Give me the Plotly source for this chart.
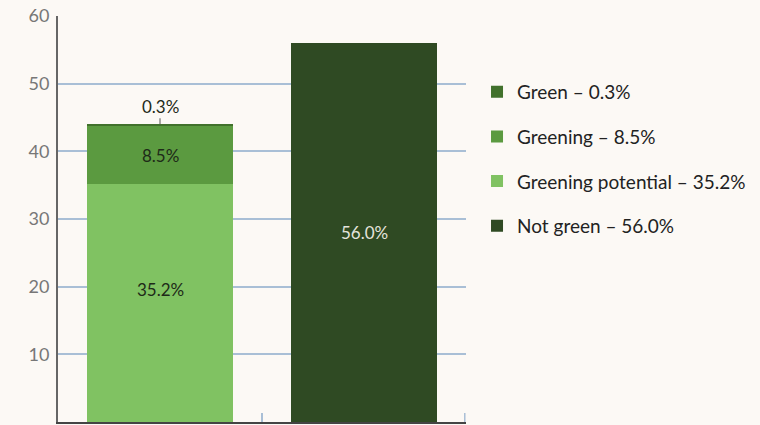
import plotly.graph_objects as go

categories = ["Green share", "Not green share"]
series_names = ["Greening potential", "Greening", "Green", "Not green"]
greening_potential = [35.2, 0]
greening = [8.5, 0]
green = [0.3, 0]
not_green = [0, 56.0]
legend_rank = [3, 2, 1, 4]
colors = ["#80c262", "#5b9a40", "#41712c", "#2f4a23"]

series_values = [greening_potential, greening, green, not_green]

fig = go.Figure()
for name, vals, col, rank in zip(series_names, series_values, colors, legend_rank):
    total = max(vals)
    fig.add_trace(go.Bar(
        x=categories, y=vals, name=f"{name} – {total:.1f}%",
        marker=dict(color=col, line=dict(width=0)),
        legendgroup=name, legendrank=rank,
        hoverinfo="skip",
    ))

# value labels
font_lbl = dict(family="Lato", size=17)
cum = 0.0
for name, vals in zip(series_names[:2], series_values[:2]):
    v = vals[0]
    fig.add_annotation(x=categories[0], y=cum + v / 2, text=f"{v:.1f}%", showarrow=False,
                       font=dict(color="#1e2a18", **font_lbl),
                       yshift=13 if cum == 0 else 0)
    cum += v
fig.add_annotation(x=categories[0], y=cum + green[0], text=f"{green[0]:.1f}%", showarrow=True,
                   arrowhead=0, arrowwidth=1, arrowcolor="#555", ax=0, ay=-18, standoff=0,
                   font=dict(color="#1e2a18", **font_lbl))
fig.add_annotation(x=categories[1], y=not_green[1] / 2, text=f"{not_green[1]:.1f}%", showarrow=False,
                   font=dict(color="#e4e4dc", **font_lbl))

# right-end boundary tick on the x axis
fig.add_shape(type="line", xref="paper", yref="paper", x0=0.997, x1=0.997, y0=0, y1=0.022,
              line=dict(color="#a9bfd6", width=1.5))

bg = "#fcf9f5"
fig.update_layout(
    barmode="stack", bargap=0.28,
    width=760, height=425,
    margin=dict(l=58, r=294, t=16, b=3),
    paper_bgcolor=bg, plot_bgcolor=bg,
    font=dict(family="Lato", color="#222"),
    showlegend=True,
    legend=dict(x=1.027, xanchor="left", y=0.86, yanchor="top",
                font=dict(size=19, color="#222"), tracegroupgap=17,
                bgcolor="rgba(0,0,0,0)", itemwidth=30),
)
fig.update_yaxes(range=[0, 60], dtick=10, showgrid=True, gridcolor="#a9bfd6", gridwidth=1.5,
                 showline=True, linecolor="#666", linewidth=2, zeroline=False,
                 tickfont=dict(size=18, color="#777"), ticklabelstandoff=3)
fig.update_xaxes(showticklabels=False, showline=True, linecolor="#444", linewidth=2,
                 ticks="inside", tickson="boundaries", ticklen=9, tickcolor="#a9bfd6", tickwidth=1.5)

fig.write_html("out.html", config={"displayModeBar": False},
               post_script="document.body.style.margin='0';")
